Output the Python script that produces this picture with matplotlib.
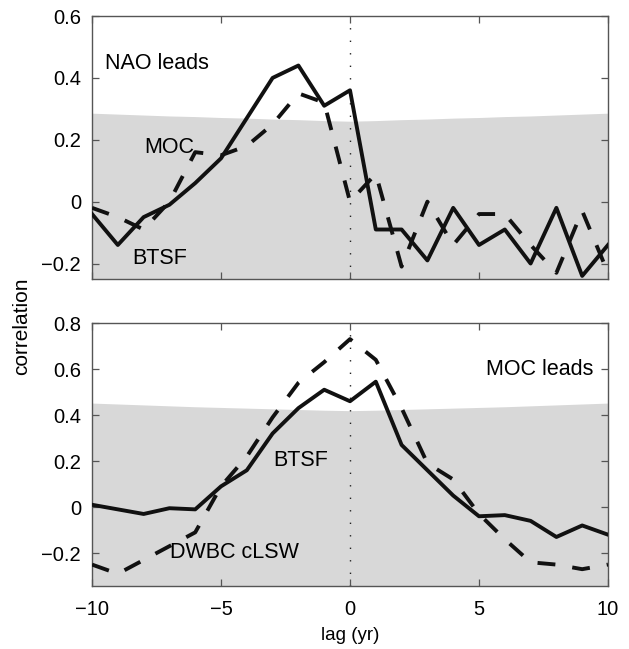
import matplotlib
matplotlib.use("Agg")
import matplotlib.pyplot as plt
import numpy as np

plt.rcParams['font.family'] = ['Liberation Sans', 'DejaVu Sans']

lags = list(range(-10, 11))

# Top panel: NAO leads
nao_btsf = [-0.04, -0.14, -0.05, -0.01, 0.06, 0.14, 0.27, 0.40, 0.44, 0.31, 0.36,
            -0.09, -0.09, -0.19, -0.02, -0.14, -0.09, -0.20, -0.02, -0.24, -0.14]
nao_moc = [-0.02, -0.05, -0.09, 0.00, 0.16, 0.15, 0.18, 0.25, 0.35, 0.32, 0.00,
           0.09, -0.21, 0.00, -0.14, -0.04, -0.04, -0.14, -0.23, -0.03, -0.23]
nao_sig = [0.286, 0.283, 0.280, 0.277, 0.275, 0.272, 0.270, 0.267, 0.265, 0.262, 0.260,
           0.262, 0.265, 0.267, 0.270, 0.272, 0.275, 0.277, 0.280, 0.283, 0.286]

# Bottom panel: MOC leads
moc_btsf = [0.01, -0.01, -0.03, -0.005, -0.01, 0.09, 0.16, 0.32, 0.43, 0.51, 0.46,
            0.545, 0.27, 0.16, 0.05, -0.04, -0.035, -0.06, -0.13, -0.08, -0.12]
moc_dwbc = [-0.25, -0.29, -0.23, -0.17, -0.11, 0.09, 0.22, 0.39, 0.54, 0.63, 0.73,
            0.64, 0.43, 0.19, 0.12, -0.03, -0.14, -0.24, -0.25, -0.27, -0.25]
moc_sig = [0.452, 0.448, 0.444, 0.440, 0.436, 0.433, 0.430, 0.427, 0.424, 0.421, 0.419,
           0.421, 0.424, 0.427, 0.430, 0.433, 0.436, 0.440, 0.444, 0.448, 0.452]

xticks = [-10, -5, 0, 5, 10]
top_yticks = [-0.2, 0, 0.2, 0.4, 0.6]
bot_yticks = [-0.2, 0, 0.2, 0.4, 0.6, 0.8]

def fmt(v):
    if abs(v) < 1e-9:
        return '0'
    s = ('%.1f' % abs(v))
    return ('\u2212' + s) if v < 0 else s

fig = plt.figure(figsize=(6.29, 6.49), dpi=100)
ax1 = fig.add_axes([0.1463, 0.5701, 0.8203, 0.4052])
ax2 = fig.add_axes([0.1463, 0.0971, 0.8203, 0.4052])

FS_TICK = 14.5
FS_TXT = 15.5
LW = 2.8
DASH = (0, (4.6, 4.4))
gray = '#d8d8d8'
edge = '#555555'

def style(ax, ylim, yticks, xlabels):
    ax.set_xlim(-10, 10)
    ax.set_ylim(*ylim)
    ax.set_xticks(xticks)
    ax.set_yticks(yticks)
    ax.set_yticklabels([fmt(v) for v in yticks], fontsize=FS_TICK)
    if xlabels:
        ax.set_xticklabels([('\u2212%d' % -v) if v < 0 else '%d' % v for v in xticks],
                           fontsize=FS_TICK)
    else:
        ax.set_xticklabels([])
    ax.tick_params(direction='in', top=True, right=True, length=5, width=0.9,
                   color=edge)
    ax.tick_params(axis='y', pad=8)
    ax.tick_params(axis='x', pad=10)
    for s in ax.spines.values():
        s.set_color(edge)
        s.set_linewidth(1.0)

# Top panel
ax1.fill_between(lags, [-v for v in nao_sig], nao_sig, color=gray, lw=0, zorder=0)
ax1.axvline(0, color='#222222', lw=1.0, linestyle=(0, (1, 8)), zorder=1)
ax1.plot(lags, nao_btsf, color='#111111', lw=LW, zorder=3)
ax1.plot(lags, nao_moc, color='#111111', lw=LW, linestyle=DASH, zorder=3)
style(ax1, (-0.25, 0.6), top_yticks, False)
ax1.text(-9.5, 0.448, 'NAO leads', fontsize=FS_TXT, va='center', ha='left')
ax1.text(-7.98, 0.176, 'MOC', fontsize=FS_TXT, va='center', ha='left')
ax1.text(-8.45, -0.183, 'BTSF', fontsize=FS_TXT, va='center', ha='left')

# Bottom panel
ax2.fill_between(lags, [-v for v in moc_sig], moc_sig, color=gray, lw=0, zorder=0)
ax2.axvline(0, color='#222222', lw=1.0, linestyle=(0, (1, 8)), zorder=1)
ax2.plot(lags, moc_btsf, color='#111111', lw=LW, zorder=3)
ax2.plot(lags, moc_dwbc, color='#111111', lw=LW, linestyle=DASH, zorder=3)
style(ax2, (-0.343, 0.8), bot_yticks, True)
ax2.text(9.42, 0.596, 'MOC leads', fontsize=FS_TXT, va='center', ha='right')
ax2.text(-2.98, 0.204, 'BTSF', fontsize=FS_TXT, va='center', ha='left')
ax2.text(-6.98, -0.196, 'DWBC cLSW', fontsize=FS_TXT, va='center', ha='left')
ax2.set_xlabel('lag (yr)', fontsize=13.5, labelpad=6)

fig.text(0.035, 0.498, 'correlation', rotation=90, fontsize=15, ha='center', va='center')

fig.savefig('out.png', dpi=100)
